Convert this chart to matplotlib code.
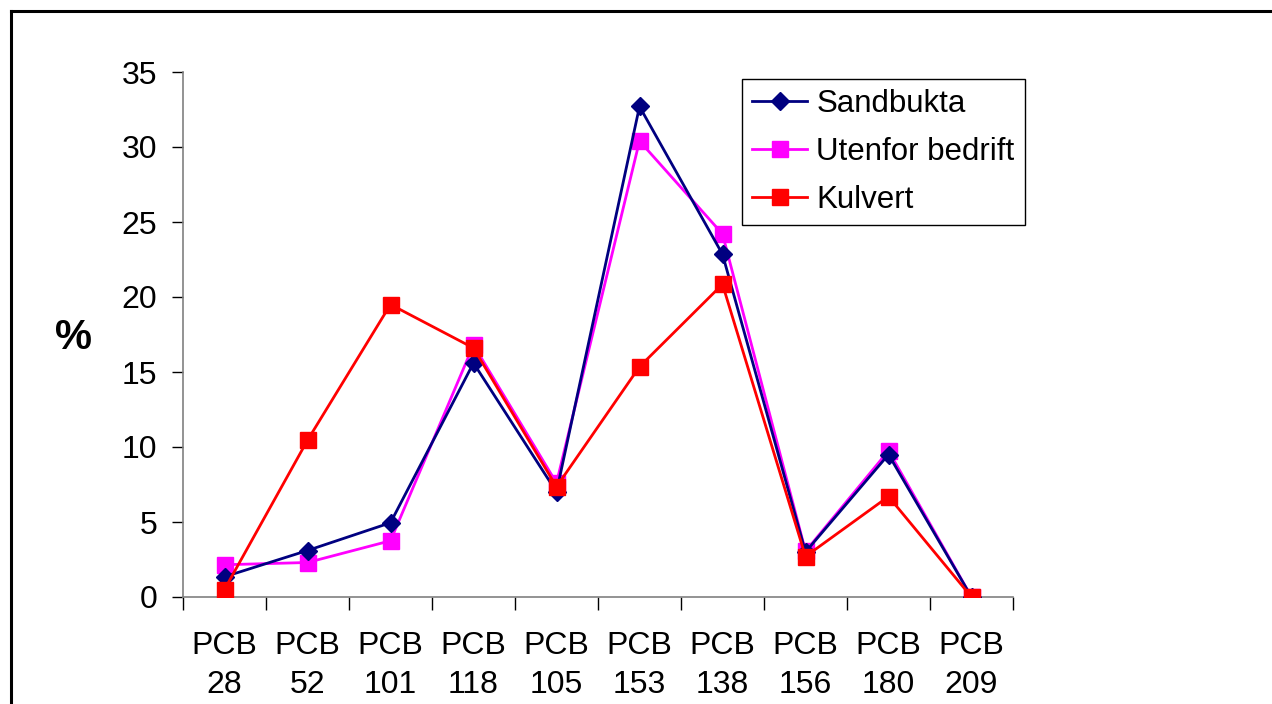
import matplotlib
matplotlib.use("Agg")
import matplotlib.pyplot as plt
from matplotlib.lines import Line2D

categories = ["PCB\n28", "PCB\n52", "PCB\n101", "PCB\n118", "PCB\n105",
              "PCB\n153", "PCB\n138", "PCB\n156", "PCB\n180", "PCB\n209"]
sandbukta = [1.35, 3.1, 4.95, 15.6, 7.0, 32.7, 22.85, 3.0, 9.5, 0.0]
utenfor = [2.15, 2.3, 3.75, 16.8, 7.6, 30.4, 24.2, 3.05, 9.75, 0.0]
kulvert = [0.5, 10.45, 19.5, 16.6, 7.35, 15.35, 20.85, 2.7, 6.7, 0.0]
y_ticks = [0, 5, 10, 15, 20, 25, 30, 35]

plt.rcParams['font.family'] = ['Liberation Sans', 'DejaVu Sans']
FS = 23
LFS = 22.5

fig = plt.figure(figsize=(12.72, 7.04), dpi=100)
ax = fig.add_axes([183/1272, 1-597/704, (1013-183)/1272, (597-72)/704])

x = list(range(len(categories)))
ax.plot(x, sandbukta, color='#000080', lw=2.0, marker='D', ms=9.5,
        label='Sandbukta', zorder=3)
ax.plot(x, utenfor, color='#FF00FF', lw=2.0, marker='s', ms=11,
        label='Utenfor bedrift', zorder=2)
ax.plot(x, kulvert, color='#FF0000', lw=2.0, marker='s', ms=11,
        label='Kulvert', zorder=4)

ax.set_xlim(-0.5, len(categories) - 0.5)
ax.set_ylim(0, 35)
ax.set_yticks(y_ticks)
ax.set_yticklabels([str(v) for v in y_ticks], fontsize=FS)
ax.set_xticks([i - 0.5 for i in range(len(categories) + 1)])
ax.set_xticklabels([])
ax.set_xticks(x, minor=True)
ax.set_xticklabels(categories, minor=True, fontsize=FS, linespacing=1.4)
ax.tick_params(axis='x', which='minor', length=0, pad=24.5)
ax.tick_params(axis='x', which='major', length=9, width=1, color='black', direction='out')
ax.tick_params(axis='y', length=8, width=1, color='black', direction='out', pad=10.5)
for s in ['top', 'right']:
    ax.spines[s].set_visible(False)
for s in ['left', 'bottom']:
    ax.spines[s].set_color('#808080')
    ax.spines[s].set_linewidth(1.2)
ax.patch.set_alpha(0)

fig.text(73/1272, 1-338/704, '%', fontsize=30, fontweight='bold', ha='center', va='center')

leg = ax.legend(loc='upper left', bbox_to_anchor=(742/1272, 1-79/704),
                bbox_transform=fig.transFigure, fontsize=LFS, frameon=True,
                fancybox=False, shadow=False, borderaxespad=0,
                handlelength=1.75, handletextpad=0.3, labelspacing=0.57,
                borderpad=0.33, framealpha=1)
leg.get_frame().set_edgecolor('black')
leg.get_frame().set_linewidth(1.0)

fig.add_artist(Line2D([11/1272, 11/1272], [0, 1-11/704], color='black', lw=2.2,
                      transform=fig.transFigure))
fig.add_artist(Line2D([11/1272, 1], [1-11/704, 1-11/704], color='black', lw=2.2,
                      transform=fig.transFigure))

fig.savefig('out.png', dpi=100)
